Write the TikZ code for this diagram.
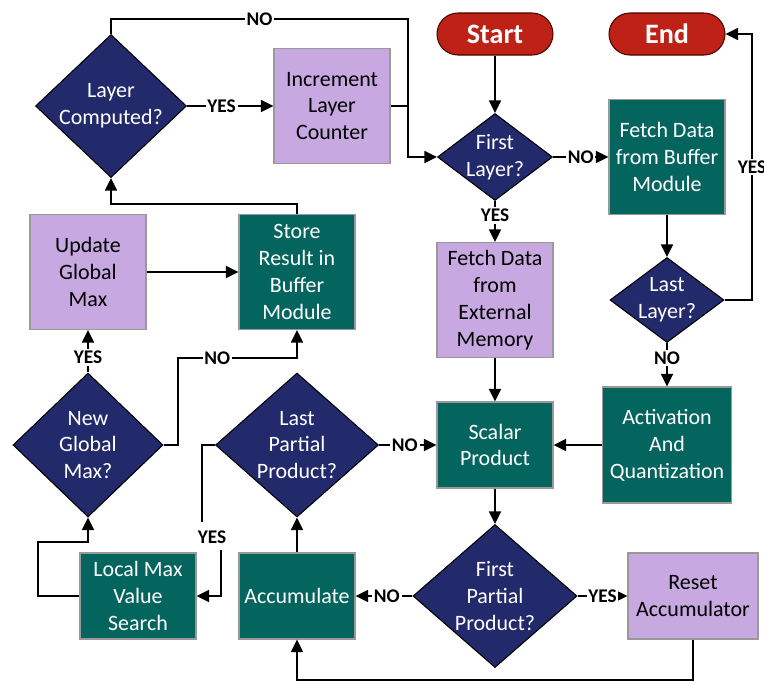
\documentclass[tikz,border=0pt]{standalone}
\usepackage{fontspec}
\setmainfont{Carlito}
\usepackage{xcolor}
\usetikzlibrary{shapes.geometric,arrows.meta}
\definecolor{navyfill}{HTML}{232A6C}
\definecolor{tealfill}{HTML}{04655F}
\definecolor{lilacfill}{HTML}{C8A8E0}
\definecolor{redfill}{HTML}{BE2217}
\tikzstyle{box}=[rectangle, draw=gray!80, line width=0.6pt, inner sep=0pt, align=center, font=\fontsize{12.5}{15.3}\selectfont, minimum width=2.32cm, minimum height=2.30cm]
\tikzstyle{tealbox}=[box, fill=tealfill, text=white]
\tikzstyle{lilacbox}=[box, fill=lilacfill, text=black]
\tikzstyle{term}=[rectangle, rounded corners=0.42cm, draw=black!70!red, line width=0.6pt, fill=redfill, text=white, font=\fontsize{16}{18}\selectfont\bfseries, minimum width=2.32cm, minimum height=0.84cm, inner sep=0pt]
\tikzstyle{dlabel}=[text=white, align=center, font=\fontsize{12.5}{15.3}\selectfont, inner sep=0pt]
\tikzstyle{dec}=[diamond, draw=black, line width=0.6pt, fill=navyfill, inner sep=0pt, label={[dlabel]center:#1}]
\tikzstyle{lbl}=[fill=white, inner sep=1pt, font=\fontsize{11}{12}\selectfont\bfseries]

\begin{document}
\begin{tikzpicture}[x=0.02cm, y=-0.02cm, line width=1.5pt, >={Triangle[length=2.5mm,width=2.3mm]}]
      \useasboundingbox (0,0) rectangle (764,684);
      % terminals
      \node[term] (start) at (495,34) {Start};
      \node[term] (end) at (667,34) {End};
      % top row
      \node[dec={Layer\\Computed?}, minimum width=3.02cm, minimum height=2.86cm] (laycomp) at (111,106) {};
      \node[lilacbox] (incr) at (332,106) {Increment\\Layer\\Counter};
      \node[dec={First\\Layer?}, minimum width=2.30cm, minimum height=1.74cm] (firstlay) at (495,157) {};
      \node[tealbox] (fetchbuf) at (667,157) {Fetch Data\\from Buffer\\Module};
      % second row
      \node[lilacbox] (update) at (88,272) {Update\\Global\\Max};
      \node[tealbox] (store) at (297,272) {Store\\Result in\\Buffer\\Module};
      \node[lilacbox] (fetchext) at (495,300) {Fetch Data\\from\\External\\Memory};
      \node[dec={Last\\Layer?}, minimum width=2.28cm, minimum height=1.70cm] (lastlay) at (667,300) {};
      % third row
      \node[dec={New\\Global\\Max?}, minimum width=3.00cm, minimum height=2.88cm] (newmax) at (88,445) {};
      \node[dec={Last\\Partial\\Product?}, minimum width=3.26cm, minimum height=2.88cm] (lastpp) at (297,445) {};
      \node[tealbox, minimum height=1.72cm] (scalar) at (495,445) {Scalar\\Product};
      \node[tealbox, minimum width=2.58cm, minimum height=2.32cm] (activ) at (667,445) {Activation\\And\\Quantization};
      % bottom row
      \node[tealbox, minimum height=1.72cm] (localmax) at (138,596) {Local Max\\Value\\Search};
      \node[tealbox, minimum height=1.72cm] (accum) at (297,596) {Accumulate};
      \node[dec={First\\Partial\\Product?}, minimum width=3.28cm, minimum height=2.86cm] (firstpp) at (495,596) {};
      \node[lilacbox, minimum width=2.60cm, minimum height=1.72cm] (reset) at (693,596) {Reset\\Accumulator};
      % connectors
      \coordinate (yesup) at (202,522);
      \coordinate (yesdown) at (221,550);
      \draw[->] (start) -- (firstlay);
      \draw[->] (firstlay) -- node[lbl] {NO} (fetchbuf);
      \draw[->] (firstlay) -- node[lbl, pos=0.35] {YES} (fetchext);
      \draw[->] (fetchbuf) -- (lastlay);
      \draw[->] (lastlay.east) -- (752,300) -- node[lbl] {YES} (752,34) -- (end.east);
      \draw[->] (lastlay) -- node[lbl, pos=0.35] {NO} (activ);
      \draw[->] (activ) -- (scalar);
      \draw[->] (fetchext) -- (scalar);
      \draw[->] (scalar) -- (firstpp);
      \draw[->] (firstpp) -- node[lbl] {YES} (reset);
      \draw[->] (firstpp) -- node[lbl, pos=0.45] {NO} (accum);
      \draw[->] (reset.south) -- (693,680) -| (accum.south);
      \draw[->] (accum) -- (lastpp);
      \draw[->] (lastpp) -- node[lbl, pos=0.45] {NO} (scalar);
      \draw (lastpp.west) -| (yesup);
      \node[lbl] (yeslbl) at (212,537) {YES};
      \draw[->] (yesdown) |- (localmax.east);
      \draw[->] (localmax.west) -- (38,596) -- (38,542) -- (88,542) -- (newmax.south);
      \draw[->] (newmax) -- node[lbl, pos=0.35] {YES} (update);
      \draw[->] (newmax.east) -- (178,445) -- (178,358) -- node[lbl, pos=0.33] {NO} (297,358) -- (store.south);
      \draw[->] (update) -- (store);
      \draw[->] (store.north) -- (297,204) -- (111,204) -- (laycomp.south);
      \draw[->] (laycomp) -- node[lbl, pos=0.4] {YES} (incr);
      \draw[->] (laycomp.north) -- (111,19) -- node[lbl] {NO} (408,19) -- (408,157) -- (firstlay.west);
      \draw (incr.east) -- (408,106);
\end{tikzpicture}
\end{document}
